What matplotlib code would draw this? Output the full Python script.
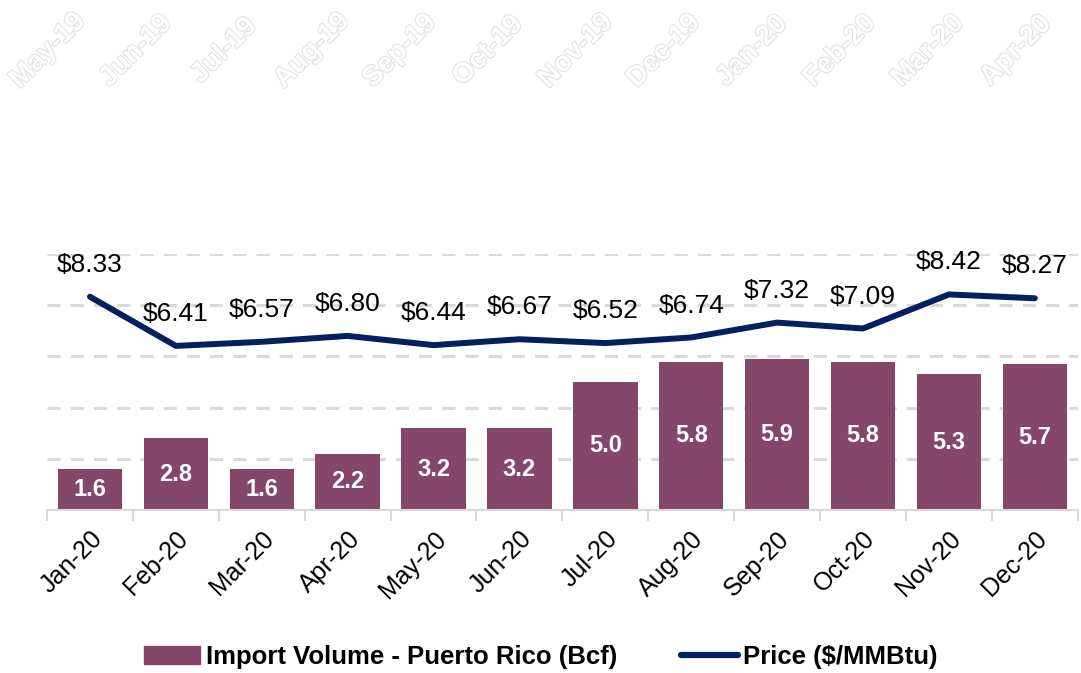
import matplotlib.pyplot as plt
import matplotlib.patheffects as pe
from matplotlib.patches import Patch
from matplotlib.lines import Line2D
import numpy as np

plt.rcParams['font.family'] = ['Liberation Sans', 'DejaVu Sans']

# data
months = ['Jan-20', 'Feb-20', 'Mar-20', 'Apr-20', 'May-20', 'Jun-20',
          'Jul-20', 'Aug-20', 'Sep-20', 'Oct-20', 'Nov-20', 'Dec-20']
volume = [1.6, 2.8, 1.6, 2.2, 3.2, 3.2, 5.0, 5.8, 5.9, 5.8, 5.3, 5.7]
price = [8.33, 6.41, 6.57, 6.80, 6.44, 6.67, 6.52, 6.74, 7.32, 7.09, 8.42, 8.27]
ghost_months = ['May-19', 'Jun-19', 'Jul-19', 'Aug-19', 'Sep-19', 'Oct-19',
                'Nov-19', 'Dec-19', 'Jan-20', 'Feb-20', 'Mar-20', 'Apr-20']

bar_col = '#854769'
line_col = '#002060'
grid_col = '#d9d9d9'

fig = plt.figure(figsize=(10.81, 6.73), dpi=100)
ax = fig.add_axes([0.0435, 0.2422, 0.9535, 0.3804])

x = np.arange(len(months))

#gridlines
for g in [2, 4, 6, 8, 10]:
    ax.axhline(g, color=grid_col, lw=2.2, dashes=(4.3, 3.3), zorder=0)

ax.bar(x, volume, width=0.75, color=bar_col, zorder=2)
for i, v in enumerate(volume):
    ax.text(i, v / 2, '%.1f' % v, ha='center', va='center', color='white',
            fontsize=17, fontweight='bold', zorder=3)

ax.plot(x, price, color=line_col, lw=4.3, solid_capstyle='round', zorder=4)
for i, p in enumerate(price):
    ax.annotate('$%.2f' % p, (i, p), xytext=(0, 23), textcoords='offset points',
                ha='center', va='center', fontsize=19, color='black')

ax.set_xlim(-0.5, 11.5)
ax.set_ylim(0, 10)
ax.set_yticks([])
for s in ['left', 'right', 'top']:
    ax.spines[s].set_visible(False)
ax.spines['bottom'].set_color(grid_col)
ax.spines['bottom'].set_linewidth(1.5)

ax.set_xticks(x)
ax.set_xticklabels(months, rotation=45, ha='right', rotation_mode='anchor', fontsize=18)
ax.tick_params(axis='x', which='major', length=0, pad=12)
ax.set_xticks(np.arange(-0.5, 12, 1), minor=True)
ax.tick_params(axis='x', which='minor', length=8, color=grid_col, width=1.5)

# faint labels along the top
for i, m in enumerate(ghost_months):
    fig.text((48 + i * 88) / 1081, 1 - 51 / 673, m, rotation=45, ha='center', va='center',
             fontsize=20, fontweight='bold', color='white',
             path_effects=[pe.withStroke(linewidth=1.4, foreground='#dedede')])

handles = [Patch(color=bar_col), Line2D([], [], color=line_col, lw=4.5, solid_capstyle='round')]
labels = ['Import Volume - Puerto Rico (Bcf)', 'Price ($/MMBtu)']
fig.legend(handles, labels, loc='center', bbox_to_anchor=(0.5, 1 - 657 / 673), ncol=2,
           frameon=False, prop={'size': 18.5, 'weight': 'bold'}, handlelength=2.2,
           handletextpad=0.2, columnspacing=2.5)

fig.savefig('out.png', dpi=100)
